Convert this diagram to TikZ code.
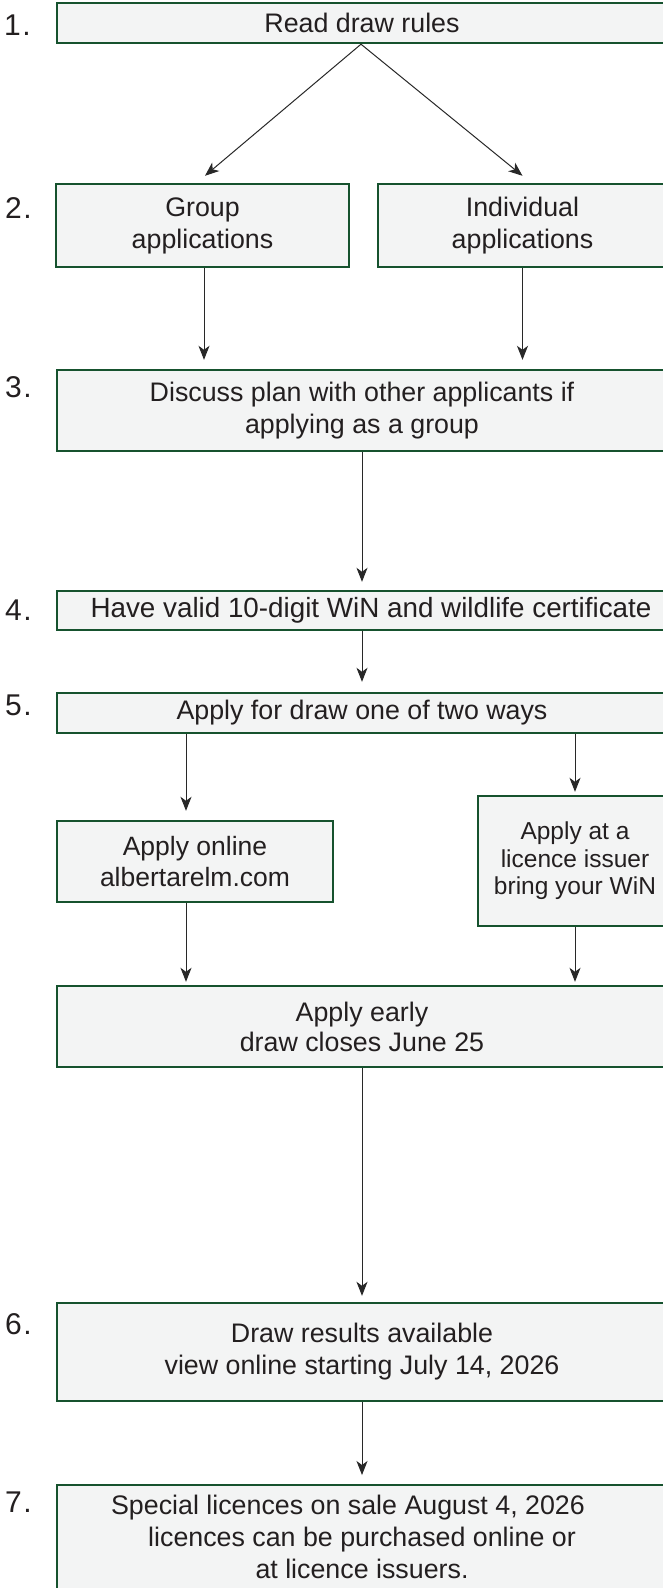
\documentclass[tikz,border=0pt]{standalone}
\usepackage{fontspec}
\setmainfont{Liberation Sans}
\usetikzlibrary{arrows.meta}
\definecolor{boxline}{RGB}{22,82,46}
\definecolor{boxfill}{RGB}{243,244,244}
\definecolor{ink}{RGB}{35,31,32}
\definecolor{arrowc}{RGB}{40,40,40}
\begin{document}
\begin{tikzpicture}[x=1pt,y=-1pt,
  stepbox/.style={draw=boxline, fill=boxfill, line width=2.4pt, inner sep=0pt, text=ink, align=center, font=\fontsize{26.8}{32}\selectfont},
  txt/.style={text=ink, inner sep=0pt, align=center, font=\fontsize{26.8}{32}\selectfont},
  numlabel/.style={text=ink, inner sep=0pt, anchor=base west, font=\fontsize{30}{32}\selectfont},
  flow/.style={draw=arrowc, line width=1pt, -{Stealth[length=14pt,width=11pt,inset=4pt]}}
]
\useasboundingbox (0,0) rectangle (663,1588);
\clip (0,0) rectangle (663,1588);
\fill[white] (0,0) rectangle (663,1588);

% boxes
\node[stepbox, minimum width=610, minimum height=40] (b1) at (362,23) {Read draw rules};
\node[stepbox, minimum width=293, minimum height=83] (b2a) at (202.5,225.5) {Group\\applications};
\node[stepbox, minimum width=289, minimum height=83] (b2b) at (522.5,225.5) {Individual\\applications};
\node[stepbox, minimum width=610, minimum height=81] (b3) at (362,410.5) {Discuss plan with other applicants if\\applying as a group};
\node[stepbox, minimum width=628, minimum height=39, font=\fontsize{27.8}{32}\selectfont] (b4) at (371,610.5) {Have valid 10-digit WiN and wildlife certificate};
\node[stepbox, minimum width=610, minimum height=40] (b5) at (362,713) {Apply for draw one of two ways};
\node[stepbox, minimum width=276, minimum height=81, font=\fontsize{26.5}{31}\selectfont] (b5a) at (195,861.5) {Apply online\\albertarelm.com};
\node[stepbox, minimum width=194, minimum height=130, font=\fontsize{24.5}{27.5}\selectfont] (b5b) at (575,861) {Apply at a\\licence issuer\\bring your WiN};
\node[stepbox, minimum width=610, minimum height=81, font=\fontsize{26.8}{30}\selectfont] (be) at (362,1026.5) {Apply early\\draw closes June 25};
\node[stepbox, minimum width=610, minimum height=98] (b6) at (362,1352) {Draw results available\\view online starting July 14, 2026};
\node[stepbox, minimum width=610, minimum height=117, anchor=north] (b7) at (362,1484) {};
\node[txt, font=\fontsize{26.8}{32}\selectfont] (t7) at (348,1537) {Special licences on sale August 4, 2026\\\hspace*{28pt}licences can be purchased online or\\\hspace*{28pt}at licence issuers.};

% step numbers
\node[numlabel] (n1) at (4,35) {1\kern1.5pt.};
\node[numlabel] (n2) at (5,218) {2\kern1.5pt.};
\node[numlabel] (n3) at (5,397) {3\kern1.5pt.};
\node[numlabel] (n4) at (5,620) {4\kern1.5pt.};
\node[numlabel] (n5) at (5,715) {5\kern1.5pt.};
\node[numlabel] (n6) at (5,1334) {6\kern1.5pt.};
\node[numlabel] (n7) at (5,1512) {7\kern1.5pt.};

% connector helper coordinates
\coordinate (top1) at ([xshift=-1pt]b1.south);
\coordinate (aL) at ([xshift=-9pt]b5a.north);
\coordinate (a2a) at ([xshift=1.5pt]b2a.north);
\coordinate (a34) at (b3.south);

% connectors
\draw[flow] (top1) -- ([yshift=7pt,xshift=2.5pt]b2a.north);
\draw[flow] (top1) -- ([yshift=7pt]b2b.north);
\draw[flow, shorten >=9pt] (a2a |- b2a.south) -- (a2a |- b3.north);
\draw[flow, shorten >=9pt] (b2b.south) -- (b2b.south |- b3.north);
\draw[flow, shorten >=8pt] (a34) -- (a34 |- b4.north);
\draw[flow, shorten >=10pt] (a34 |- b4.south) -- (b5.north);
\draw[flow, shorten >=9pt] (aL |- b5.south) -- (aL);
\draw[flow, shorten >=3pt] (b5b.north |- b5.south) -- (b5b.north);
\draw[flow, shorten >=3pt] (aL |- b5a.south) -- (aL |- be.north);
\draw[flow, shorten >=3pt] (b5b.south) -- (b5b.south |- be.north);
\draw[flow, shorten >=6pt] (be.south) -- (b6.north);
\draw[flow, shorten >=9pt] (b6.south) -- (b7.north);
\end{tikzpicture}
\end{document}
